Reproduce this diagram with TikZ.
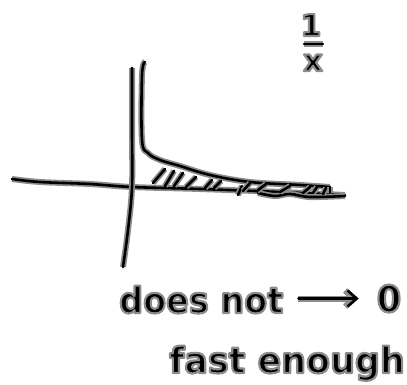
\documentclass[tikz,border=0pt]{standalone}
\usepackage{fontspec}
\setmainfont{DejaVu Sans}
\usetikzlibrary{arrows.meta}
\definecolor{halo}{gray}{0.55}
\tikzset{
  sk/.style={line width=2.6pt, draw=black, line cap=round, line join=round,
    preaction={draw=halo, line width=6pt}},
  hw/.style={inner sep=0pt, text=black},
}
\newcommand{\hw}[2][1]{\scalebox{#1}[1]{\special{pdf:literal direct 2 Tr 2.2 w 0.55 G 1 j}#2\special{pdf:literal direct 0 Tr}}}
\begin{document}
\begin{tikzpicture}[x=1pt,y=-1pt]
\useasboundingbox (0,0) rectangle (407,385);
% axes
\draw[sk] plot[smooth, tension=0.6] coordinates {(12,179) (40,182) (90,184) (132,187) (200,189) (280,192) (345,195)};
\draw[sk] plot[smooth, tension=0.6] coordinates {(132,68) (132,130) (132,187) (128,230) (123,267)};
% curve 1/x
\draw[sk] plot[smooth, tension=0.6] coordinates {(145,62) (142,75) (142,140) (148,153) (160,160) (180,166) (210,175) (250,182) (300,185) (330,187)};
\draw[sk] (330,187) -- (330,193);
% lower edge on the right
\draw[sk] plot[smooth, tension=0.6] coordinates {(258,193) (275,196) (290,194) (310,197) (345,196)};
% hatching
\foreach \a/\b/\c/\d in {153/183/165/169, 165/186/174/171, 174/186/183/173, 186/187/196/177,
  205/188/212/180, 214/188/221/181, 238/195/242/186, 243/191/250/183, 257/191/266/184,
  280/192/290/186, 303/193/310/187, 313/193/317/187, 323/194/326/188}
  \draw[sk] (\a,\b) -- (\c,\d);
% label 1/x
\node[hw, anchor=base, font=\fontsize{30}{32}\selectfont\bfseries] (one) at (311,36) {\hw{1}};
\coordinate (barl) at (304,44);
\coordinate (barr) at (323,44);
\draw[sk] (barl) -- (barr);
\node[hw, anchor=base, font=\fontsize{30}{32}\selectfont\bfseries] (ex) at (313,71) {\hw{x}};
% text
\node[hw, anchor=base west, font=\fontsize{36}{38}\selectfont\bfseries] (dn) at (119,313) {\hw[0.93]{does not}};
\node[hw, anchor=base, font=\fontsize{37}{38}\selectfont\bfseries] (zero) at (389,312) {\hw[0.95]{0}};
\draw[sk, -{Straight Barb[length=9pt, width=16pt]}] ([xshift=15pt]dn.east |- zero.center) -- ([xshift=-18pt]zero.west |- zero.center);
\node[hw, anchor=base west, font=\fontsize{36}{38}\selectfont\bfseries] (fe) at (169,373) {\hw[0.97]{fast enough}};
\end{tikzpicture}
\end{document}
